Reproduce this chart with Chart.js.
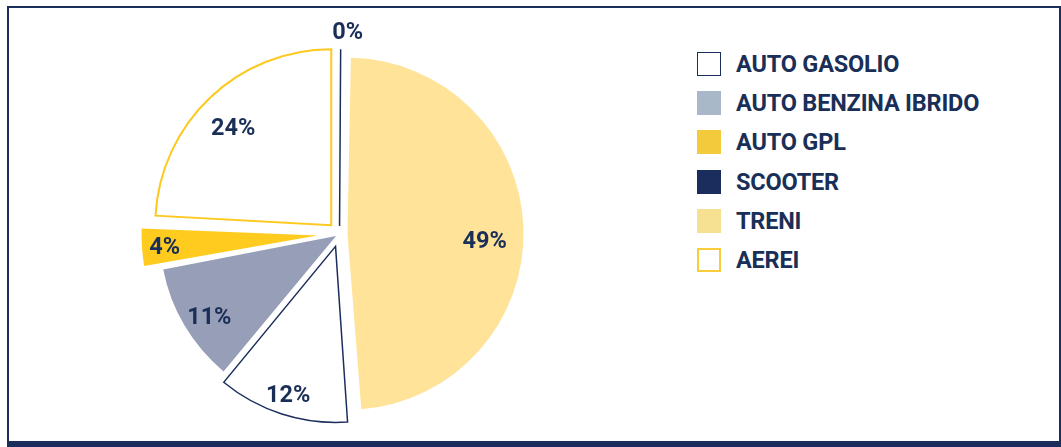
<!DOCTYPE html>
<html lang="it">
<head>
<meta charset="utf-8"/>
<title>Ripartizione mezzi</title>
<script src="https://cdn.jsdelivr.net/npm/chart.js"></script>
<style>
html, body {
  margin: 0;
  padding: 0;
  background: #ffffff;
  width: 1061px;
  height: 447px;
  overflow: hidden;
  font-family: 'Roboto', 'Noto Sans', sans-serif;
}
.frame {
  position: absolute;
  left: 7px;
  top: 6px;
  width: 1054px;
  height: 441px;
  box-sizing: border-box;
  border: 2px solid #1b2d5b;
  border-bottom-width: 6px;
}
.pie-box {
  position: absolute;
  left: 0;
  top: 0;
  width: 680px;
  height: 447px;
}
.legend {
  position: absolute;
  left: 697px;
  top: 52px;
  margin: 0;
  padding: 0;
  list-style: none;
}
.legend li {
  display: flex;
  align-items: center;
  height: 24px;
  margin-bottom: 15.2px;
}
.legend .box {
  width: 24px;
  height: 24px;
  box-sizing: border-box;
  margin-right: 15px;
}
.legend .txt {
  font-weight: 700;
  font-size: 23.5px;
  letter-spacing: -0.2px;
  color: #1a2f57;
}
</style>
</head>
<body>
<div class="frame"></div>
<div class="pie-box">
  <canvas id="pieChart"></canvas>
</div>
<ul class="legend" id="legend"></ul>
<script>
// slices, clockwise from 12 o'clock
const categories = ["SCOOTER", "TRENI", "AUTO GASOLIO", "AUTO BENZINA IBRIDO", "AUTO GPL", "AEREI"];
const shares = [0.2, 48.8, 12.2, 11, 3.9, 24.2];
const legendOrder = ["AUTO GASOLIO", "AUTO BENZINA IBRIDO", "AUTO GPL", "SCOOTER", "TRENI", "AEREI"];

const PIE_R = 176;

const sliceFill = ["#1b2d5b", "#fee399", "#ffffff", "#979fb8", "#fecb1e", "#ffffff"];
const sliceBorder = ["#1b2d5b", "#fee399", "#1b2d5b", "#979fb8", "#fecb1e", "#fdc91e"];
const sliceBorderWidth = [1.5, 0, 1.5, 0, 0, 2];
const sliceOffset = [32, 32, 52, 16, 88, 48];   // chart.js moves arcs by offset/4
const labelPos = [1.11, 0.78, 0.88, 0.85, 0.87, 0.79];
const labelTurn = [2, 4, 0, -1.5, 0, -1.4];      // degrees

const legendFill = {
  "AUTO GASOLIO": "#ffffff", "AUTO BENZINA IBRIDO": "#a8b8c8", "AUTO GPL": "#f2ca3c",
  "SCOOTER": "#1b2d5d", "TRENI": "#f5e191", "AEREI": "#ffffff"
};
const legendBorder = { "AUTO GASOLIO": "1.5px solid #1b2d5b", "AEREI": "2px solid #f8cc3a" };

// keep every exploded slice at the same radius (chart.js grows it by offset)
const keepRadius = {
  id: "keepRadius",
  afterDatasetUpdate(chart, args) {
    args.meta.data.forEach(arc => {
      const o = (arc.options.offset || 0) / 4;
      const fix = 1 - Math.sin(Math.min(Math.PI, arc.circumference));
      arc.outerRadius = PIE_R - o * fix;
    });
  }
};

const LABEL_PX = 23.5;
const pctLabels = {
  id: "pctLabels",
  afterDatasetsDraw(chart) {
    const ctx = chart.ctx;
    const meta = chart.getDatasetMeta(0);
    ctx.save();
    ctx.font = "700 " + LABEL_PX + "px Roboto";
    ctx.fillStyle = "#1a2f57";
    ctx.textAlign = "center";
    ctx.textBaseline = "alphabetic";
    meta.data.forEach((arc, i) => {
      const { x, y, startAngle, endAngle } = arc.getProps(["x", "y", "startAngle", "endAngle"], true);
      const mid = (startAngle + endAngle) / 2;
      const ang = mid + labelTurn[i] * Math.PI / 180;
      const o = (arc.options.offset || 0) / 4;
      const tipX = x + Math.cos(mid) * o, tipY = y + Math.sin(mid) * o;
      const dist = PIE_R * labelPos[i];
      ctx.fillText(Math.round(shares[i]) + "%",
        tipX + Math.cos(ang) * dist,
        tipY + Math.sin(ang) * dist + LABEL_PX * 0.355);
    });
    ctx.restore();
  }
};

Chart.defaults.font.family = "Roboto";

const chart = new Chart(document.getElementById("pieChart"), {
  type: "pie",
  data: {
    labels: categories,
    datasets: [{
      data: shares,
      backgroundColor: sliceFill,
      borderColor: sliceBorder,
      borderWidth: sliceBorderWidth,
      borderJoinStyle: "miter",
      offset: sliceOffset
    }]
  },
  options: {
    responsive: true,
    maintainAspectRatio: false,
    animation: false,
    events: [],
    radius: PIE_R,
    layout: { padding: { left: 0, right: 1, top: 21, bottom: 0 } },
    plugins: {
      legend: { display: false },
      tooltip: { enabled: false }
    }
  },
  plugins: [keepRadius, pctLabels]
});

// legend in the reference order
const ul = document.getElementById("legend");
legendOrder.forEach(name => {
  const li = document.createElement("li");
  const box = document.createElement("span");
  box.className = "box";
  box.style.background = legendFill[name];
  if (legendBorder[name]) box.style.border = legendBorder[name];
  const txt = document.createElement("span");
  txt.className = "txt";
  txt.textContent = name;
  li.appendChild(box);
  li.appendChild(txt);
  ul.appendChild(li);
});
</script>
</body>
</html>
